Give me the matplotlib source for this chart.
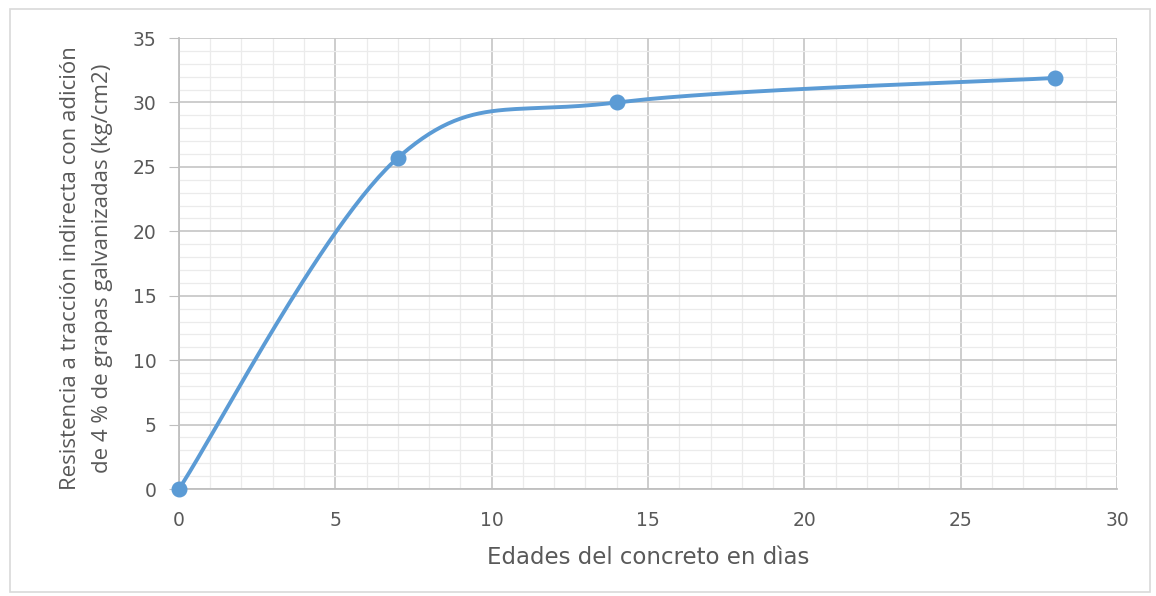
import numpy as np
import matplotlib
matplotlib.use("Agg")
import matplotlib.pyplot as plt
from matplotlib.patches import Rectangle
from matplotlib.ticker import MultipleLocator

# Ages (days) and indirect tensile strength (kg/cm2)
edades = [0, 7, 14, 28]
resistencia = [0.0, 25.7, 30.0, 31.9]

x_ticks = [0, 5, 10, 15, 20, 25, 30]
y_ticks = [0, 5, 10, 15, 20, 25, 30, 35]

LINE_BLUE = "#5B9BD5"
TEXT_GRAY = "#595959"


def smooth_curve(xs, ys, n=60):
    """Cubic Bezier smoothing through the points (spreadsheet-style smoothed line)."""
    pts = np.column_stack([xs, ys]).astype(float)
    out = []
    m = len(pts)
    for i in range(m - 1):
        p0 = pts[i - 1] if i > 0 else pts[i]
        p1 = pts[i]
        p2 = pts[i + 1]
        p3 = pts[i + 2] if i + 2 < m else pts[i + 1]
        c1 = p1 + (p2 - p0) / 6.0
        c2 = p2 - (p3 - p1) / 6.0
        t = np.linspace(0, 1, n)[:, None]
        seg = ((1 - t) ** 3) * p1 + 3 * ((1 - t) ** 2) * t * c1 + 3 * (1 - t) * t ** 2 * c2 + t ** 3 * p2
        out.append(seg if i == 0 else seg[1:])
    seg = np.vstack(out)
    return seg[:, 0], seg[:, 1]


plt.rcParams["font.family"] = ["DejaVu Sans"]

fig = plt.figure(figsize=(11.56, 5.96), dpi=100)
fig.patches.append(Rectangle((0.009, 0.007), 0.986, 0.978, transform=fig.transFigure,
                             fill=False, edgecolor="#D9D9D9", linewidth=1.2))

ax = fig.add_axes([0.1548, 0.1795, 0.8115, 0.7567])
ax.set_xlim(0, 30)
ax.set_ylim(0, 35)

ax.xaxis.set_minor_locator(MultipleLocator(1))
ax.yaxis.set_minor_locator(MultipleLocator(1))
ax.set_xticks(x_ticks)
ax.set_yticks(y_ticks)

ax.grid(which="major", color="#C9C9C9", linewidth=1.3)
ax.grid(which="minor", color="#EBEBEB", linewidth=0.9)
ax.set_axisbelow(True)

for side in ["top", "right"]:
    ax.spines[side].set_visible(False)
for side in ["left", "bottom"]:
    ax.spines[side].set_color("#BFBFBF")
    ax.spines[side].set_linewidth(1.3)

ax.tick_params(axis="y", which="major", length=7, color="#BFBFBF", labelsize=13.5,
               labelcolor=TEXT_GRAY, pad=9)
ax.tick_params(axis="x", which="major", length=0, labelsize=13.5, labelcolor=TEXT_GRAY, pad=16)
ax.tick_params(which="minor", length=0)

sx, sy = smooth_curve(edades, resistencia)
ax.plot(sx, sy, color=LINE_BLUE, linewidth=2.8, solid_capstyle="round", zorder=3)
ax.plot(edades, resistencia, linestyle="none", marker="o", markersize=10.5,
        color=LINE_BLUE, zorder=4, clip_on=False)

ax.set_xlabel("Edades del concreto en dìas", fontsize=16.5, color=TEXT_GRAY, labelpad=11)
ax.set_ylabel("Resistencia a tracción indirecta con adición\nde 4 % de grapas galvanizadas (kg/cm2)",
              fontsize=16, color=TEXT_GRAY, linespacing=1.7,
              family=["Open Sans", "DejaVu Sans"])
ax.yaxis.set_label_coords(-0.0705, 0.49)

fig.savefig("out.png", dpi=100)
